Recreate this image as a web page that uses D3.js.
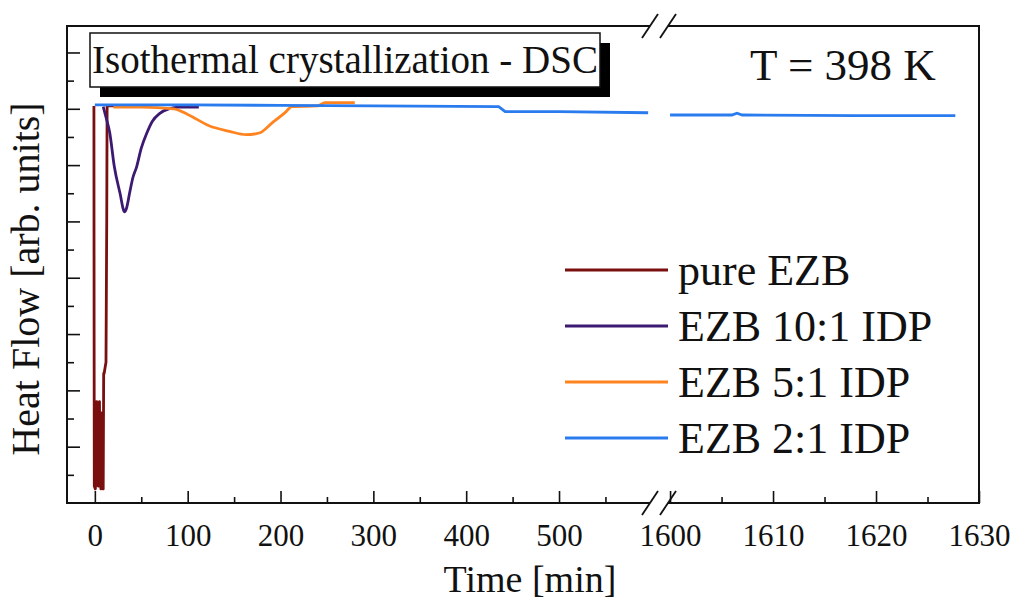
<!DOCTYPE html>
<meta charset="utf-8">
<script src="https://d3js.org/d3.v7.min.js"></script>
<style>
  body { margin: 0; background: #fff; }
  text { font-family: "Liberation Serif", "Times New Roman", serif; fill: #111; }
</style>
<div id="chart"></div>
<script>

// ---- data (time in min, heat flow in arb. units) ----
var seriesNames = ["pure EZB", "EZB 10:1 IDP", "EZB 5:1 IDP", "EZB 2:1 IDP"];
var seriesColors = ["#7a0f0f", "#3d1a72", "#ff8420", "#2a7bee"];

var pureT = [-1, -0.8, -0.6, 0.5, 1.5, 2, 2.5, 3, 3.5, 4, 4.5, 5, 5.5, 6, 6.5, 7, 7.5, 8, 8.5, 9, 9.5, 10, 11, 12, 12.8, 13.2, 40];
var pureV = [7.05, 3.0, 0.3, 0.25, 0.5, 1.8, 0.4, 1.7, 0.3, 1.6, 0.3, 1.8, 0.4, 1.5, 0.25, 1.6, 0.3, 1.4, 0.3, 0.25, 2.3, 2.3, 2.4, 2.5, 5.0, 7.05, 7.05];

var tenT = [9, 12, 16, 21, 27, 32, 34, 37.5, 41, 45, 50, 56, 62, 70, 80, 90, 112];
var tenV = [7.04, 6.85, 6.58, 5.97, 5.51, 5.17, 5.23, 5.51, 5.78, 5.97, 6.3, 6.57, 6.78, 6.92, 7.0, 7.03, 7.03];

var fiveT = [20, 50, 85, 100, 123, 145, 163, 177, 191, 206, 212, 240, 248, 280];
var fiveV = [7.03, 7.03, 7.0, 6.9, 6.7, 6.6, 6.54, 6.57, 6.75, 6.95, 7.04, 7.05, 7.11, 7.11];

var twoT = [0, 100, 200, 300, 435, 442, 500, 596, 1600, 1606, 1606.5, 1607, 1618, 1627.7];
var twoV = [7.07, 7.07, 7.06, 7.05, 7.04, 6.95, 6.95, 6.93, 6.89, 6.89, 6.92, 6.89, 6.88, 6.88];

// ticks
var xLeftMajor = [0, 100, 200, 300, 400, 500];
var xLeftMinor = [50, 150, 250, 350, 450, 550];
var xRightMajor = [1600, 1610, 1620, 1630];
var xRightMinor = [1605, 1615, 1625];
var yMajor = [1, 2, 3, 4, 5, 6, 7, 8];
var yMinor = [0.5, 1.5, 2.5, 3.5, 4.5, 5.5, 6.5, 7.5];

var W = 1013, H = 601;

var svg = d3.select("#chart")
  .append("svg")
    .attr("width", W)
    .attr("height", H);

// broken x axis: two scales side by side
var xL = d3.scaleLinear().domain([-30, 598]).range([67, 650]);
var xR = d3.scaleLinear().domain([1599.8, 1630]).range([668, 979]);
var y = d3.scaleLinear().domain([0, 8.47]).range([503, 26]);

var x0 = xL.range()[0], x1 = xL.range()[1], x2 = xR.range()[0], x3 = xR.range()[1];
var yB = y.range()[0], yT = y.range()[1];

// clip so lines stay inside frame
svg.append("clipPath").attr("id", "clipL")
  .append("rect").attr("x", x0).attr("y", yT).attr("width", x1 - x0).attr("height", yB - yT);
svg.append("clipPath").attr("id", "clipR")
  .append("rect").attr("x", x2).attr("y", yT).attr("width", x3 - x2).attr("height", yB - yT);

// build series, split into left / right part of the break
var allT = [pureT, tenT, fiveT, twoT];
var allV = [pureV, tenV, fiveV, twoV];
var smooth = [false, true, true, false];

seriesNames.forEach(function(name, i) {
  var curve = smooth[i] ? d3.curveMonotoneX : d3.curveLinear;
  var lineL = d3.line().curve(curve).x(function(d) { return xL(d[0]); }).y(function(d) { return y(d[1]); });
  var lineR = d3.line().curve(curve).x(function(d) { return xR(d[0]); }).y(function(d) { return y(d[1]); });
  var pts = allT[i].map(function(t, j) { return [t, allV[i][j]]; });
  var left = pts.filter(function(p) { return p[0] < 1000; });
  var right = pts.filter(function(p) { return p[0] >= 1000; });
  if (left.length > 1)
    svg.append("path")
      .datum(left)
      .attr("clip-path", "url(#clipL)")
      .attr("fill", "none")
      .attr("stroke", seriesColors[i])
      .attr("stroke-width", 2.8)
      .attr("stroke-linejoin", "round")
      .attr("d", lineL);
  if (right.length > 1)
    svg.append("path")
      .datum(right)
      .attr("clip-path", "url(#clipR)")
      .attr("fill", "none")
      .attr("stroke", seriesColors[i])
      .attr("stroke-width", 2.8)
      .attr("d", lineR);
});

// ---- axes (ticks point inward) ----
function styleAxis(g) {
  g.select(".domain").remove();
  g.selectAll(".tick line").attr("stroke", "#111").attr("stroke-width", 1.6);
  g.selectAll(".tick text")
    .style("font-family", '"Liberation Serif", serif')
    .style("font-size", "31px")
    .attr("fill", "#111");
}

var fmt = d3.format("d");

svg.append("g").attr("transform", "translate(0," + yB + ")")
  .call(d3.axisBottom(xL).tickValues(xLeftMajor).tickFormat(fmt).tickSizeInner(-12).tickSizeOuter(0).tickPadding(21))
  .call(styleAxis);
svg.append("g").attr("transform", "translate(0," + yB + ")")
  .call(d3.axisBottom(xL).tickValues(xLeftMinor).tickSizeInner(-6).tickSizeOuter(0).tickFormat(""))
  .call(styleAxis);
svg.append("g").attr("transform", "translate(0," + yB + ")")
  .call(d3.axisBottom(xR).tickValues(xRightMajor).tickFormat(fmt).tickSizeInner(-12).tickSizeOuter(0).tickPadding(21))
  .call(styleAxis);
svg.append("g").attr("transform", "translate(0," + yB + ")")
  .call(d3.axisBottom(xR).tickValues(xRightMinor).tickSizeInner(-6).tickSizeOuter(0).tickFormat(""))
  .call(styleAxis);

svg.append("g").attr("transform", "translate(" + x0 + ",0)")
  .call(d3.axisRight(y).tickValues(yMajor).tickSize(13).tickFormat(""))
  .call(styleAxis);
svg.append("g").attr("transform", "translate(" + x0 + ",0)")
  .call(d3.axisRight(y).tickValues(yMinor).tickSize(7).tickFormat(""))
  .call(styleAxis);

// ---- frame with break ----
var frame = svg.append("g").attr("stroke", "#111").attr("stroke-width", 2).attr("fill", "none");
frame.append("line").attr("x1", x0).attr("x2", x0).attr("y1", yT).attr("y2", yB);
frame.append("line").attr("x1", x3).attr("x2", x3).attr("y1", yT).attr("y2", yB);
[yT, yB].forEach(function(yy) {
  frame.append("line").attr("x1", x0 - 1).attr("x2", x1).attr("y1", yy).attr("y2", yy);
  frame.append("line").attr("x1", x2).attr("x2", x3 + 1).attr("y1", yy).attr("y2", yy);
  [x1, x2].forEach(function(xx) {
    frame.append("line")
      .attr("stroke-width", 1.8)
      .attr("x1", xx - 8).attr("y1", yy + 12)
      .attr("x2", xx + 8).attr("y2", yy - 12);
  });
});

// ---- axis titles ----
svg.append("text")
  .attr("x", 530).attr("y", 592)
  .attr("text-anchor", "middle")
  .style("font-size", "38px")
  .text("Time [min]");

svg.append("text")
  .attr("transform", "translate(39,279) rotate(-90)")
  .attr("text-anchor", "middle")
  .style("font-size", "40px")
  .text("Heat Flow [arb. units]");

// ---- title box with shadow ----
svg.append("rect").attr("x", 100).attr("y", 43).attr("width", 510).attr("height", 54).attr("fill", "#000");
svg.append("rect").attr("x", 90).attr("y", 33).attr("width", 510).attr("height", 54)
  .attr("fill", "#fff").attr("stroke", "#111").attr("stroke-width", 1.5);
svg.append("text")
  .attr("x", 345).attr("y", 73)
  .attr("text-anchor", "middle")
  .style("font-size", "39px")
  .text("Isothermal crystallization - DSC");

svg.append("text")
  .attr("x", 750).attr("y", 80)
  .style("font-size", "45px")
  .text("T = 398 K");

// ---- legend ----
var legend = svg.append("g");
seriesNames.forEach(function(name, i) {
  var ly = 270 + i * 56;
  legend.append("line")
    .attr("x1", 565).attr("x2", 668)
    .attr("y1", ly).attr("y2", ly)
    .attr("stroke", seriesColors[i])
    .attr("stroke-width", 3);
  legend.append("text")
    .attr("x", 678).attr("y", ly + 15)
    .style("font-size", "44px")
    .text(name);
});

</script>
